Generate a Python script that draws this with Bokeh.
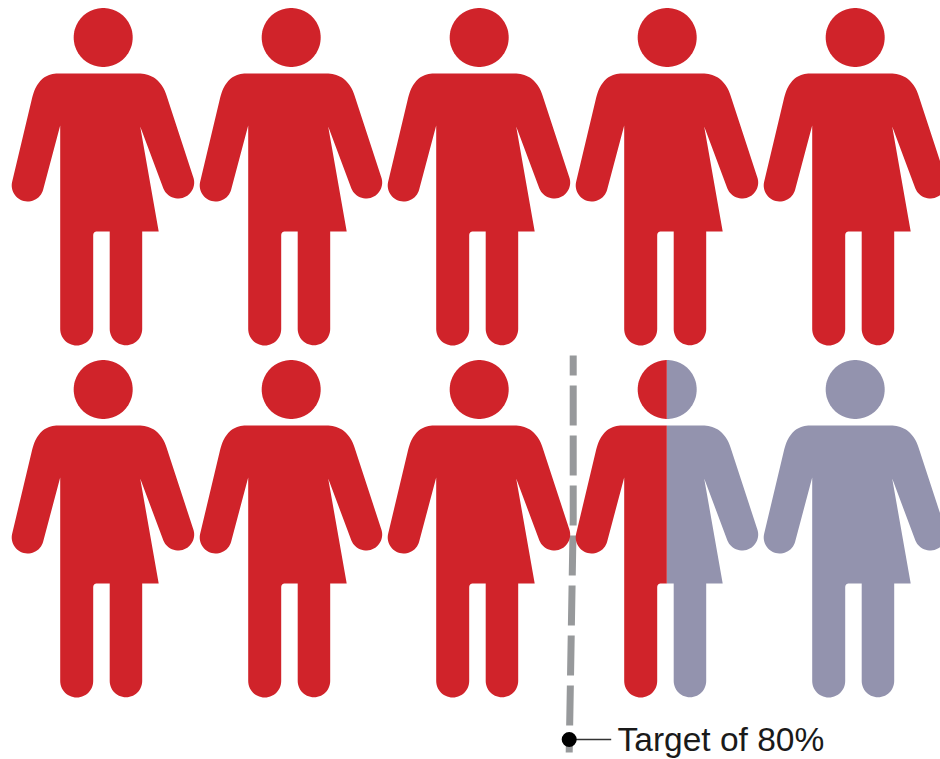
import math
from bokeh.plotting import figure
from bokeh.models import Range1d
from bokeh.core.properties import value
from bokeh.embed import file_html
from bokeh.resources import INLINE

# data
people_total = 10
people_per_row = 5
achieved_share = 85
target_share = 80
target_label = "Target of 80%"

RED = "#D0232A"
SLATE = "#9393AE"
DASH = "#97999B"


def arc(cx, cy, r, a0, a1, n=28):
    return [(cx + r * math.cos(math.radians(a0 + (a1 - a0) * k / n)),
             cy + r * math.sin(math.radians(a0 + (a1 - a0) * k / n))) for k in range(n + 1)]


def quad(p0, c, p1, n=20):
    out = []
    for k in range(n + 1):
        t = k / n
        out.append(((1 - t) ** 2 * p0[0] + 2 * t * (1 - t) * c[0] + t ** 2 * p1[0],
                    (1 - t) ** 2 * p0[1] + 2 * t * (1 - t) * c[1] + t ** 2 * p1[1]))
    return out


# pictogram outline in its own units, centred on the head
def body():
    pts = []
    pts += quad((35, 73), (57, 73), (64, 97))
    pts += arc(75, 182, 16, -22, 158)
    pts += [(37, 126), (55.5, 231), (39, 231)]
    pts += arc(22.75, 328.5, 16.25, 0, 180)
    pts += [(6.5, 231), (-6, 231)]
    pts += quad((-6, 231), (-10, 231), (-10, 235), 8)
    pts += arc(-26.5, 328.5, 16.5, 0, 180)
    pts += [(-43, 125)]
    pts += arc(-75.5, 185, 16, 14.5, 194.5)
    pts += quad((-71, 97), (-65, 73), (-45, 73))
    return pts


def head():
    return arc(0, 37, 29.5, 0, 360, 90)[:-1]


def clip(poly, x0, keep_left):
    inside = (lambda p: p[0] <= x0) if keep_left else (lambda p: p[0] >= x0)
    out = []
    for i, a in enumerate(poly):
        b = poly[(i + 1) % len(poly)]
        if inside(a):
            out.append(a)
        if inside(a) != inside(b):
            t = (x0 - a[0]) / (b[0] - a[0])
            out.append((x0, a[1] + t * (b[1] - a[1])))
    return out


CELL_W, CELL_H, X0, Y0 = 188, 352, 102.7, 0
share_per_person = 100 / people_total

p = figure(width=940, height=759, x_range=Range1d(0, 940), y_range=Range1d(759, 0),
           output_backend="svg", toolbar_location=None, min_border=0,
           background_fill_color="white", border_fill_color="white")
p.axis.visible = False
p.grid.visible = False
p.outline_line_color = None


def share_x(share):
    row_share = share_per_person * people_per_row
    s = share - row_share if share > row_share else share
    return X0 - CELL_W / 2 + CELL_W * s / share_per_person


# target line sits beneath the figures
tx = share_x(target_share)
p.line([tx, tx, tx - 4], [355, 520, 752], line_color=DASH, line_width=7,
       line_dash="40 10", line_dash_offset=20)

red_x, red_y, grey_x, grey_y = [], [], [], []
for i in range(people_total):
    col = i % people_per_row
    row = i // people_per_row
    cx = X0 + col * CELL_W
    dy = Y0 + row * CELL_H
    frac = min(max(achieved_share / share_per_person - i, 0), 1)
    split = cx - CELL_W / 2 + frac * CELL_W - 0.4
    for shape in (head(), body()):
        abs_pts = [(x + cx, y + dy) for x, y in shape]
        if frac >= 1:
            left, right = abs_pts, []
        elif frac <= 0:
            left, right = [], abs_pts
        else:
            left, right = clip(abs_pts, split, True), clip(abs_pts, split, False)
        if left:
            red_x.append([q[0] for q in left])
            red_y.append([q[1] for q in left])
        if right:
            grey_x.append([q[0] for q in right])
            grey_y.append([q[1] for q in right])

p.patches(grey_x, grey_y, fill_color=SLATE, line_color=None)
p.patches(red_x, red_y, fill_color=RED, line_color=None)

# annotation
ax = tx - 4
p.line([ax, ax + 42], [739, 739], line_color="#333333", line_width=1.5)
p.scatter([ax], [739], size=15, marker="circle", fill_color="#000000", line_color=None)
p.text([617], [739], text=[target_label], text_font=value("Liberation Sans"),
       text_font_size="33.5px", text_color="#1A1A1A", text_align="left", text_baseline="middle")

open("out.html", "w").write(file_html(p, INLINE))
